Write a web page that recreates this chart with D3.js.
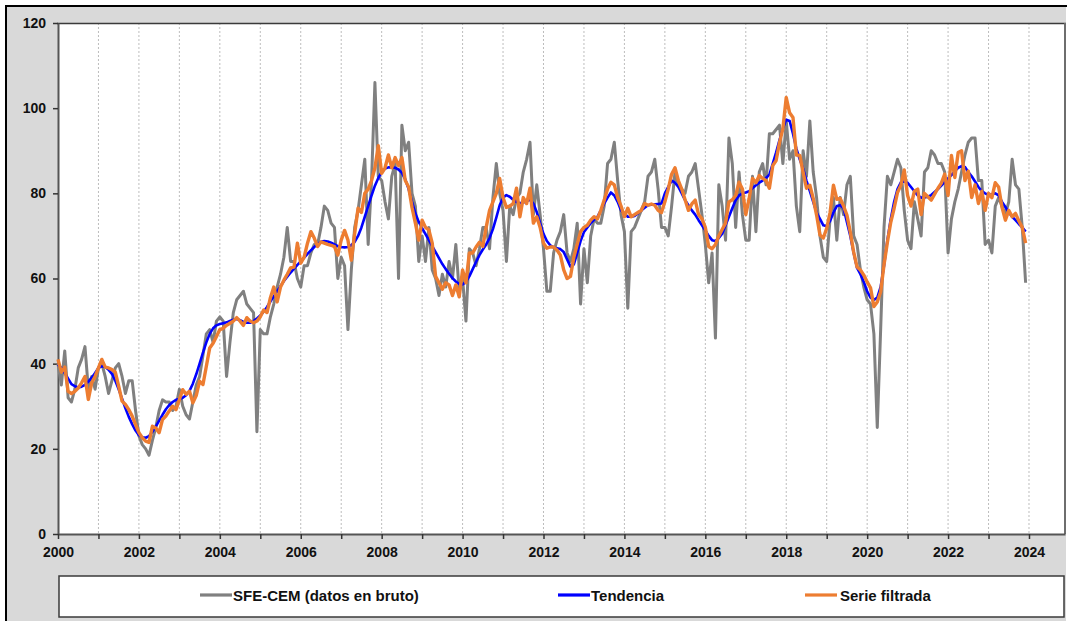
<!DOCTYPE html>
<html>
<head>
<meta charset="utf-8">
<script src="https://cdn.jsdelivr.net/npm/d3@7"></script>
<style>
    body { margin: 0; background: #fff; }
    text { font-family: "Liberation Sans", Arial, sans-serif; font-weight: bold; fill: #111; }
</style>
</head>
<body>
<script>

        //monthly series, January 2000 to December 2023
let startYear = 2000;

let bruto = [
    40, 35, 43, 32, 31, 34, 39, 41, 44, 34, 37, 34,      //2000
    39, 40, 37, 33, 36, 39, 40, 37, 33, 36, 36, 29,      //2001
    23, 21, 20, 18.5, 22, 25, 29, 31.5, 31, 31, 29, 30,  //2002
    34, 30, 28, 27, 31, 35, 37, 42, 47, 48, 45, 50,      //2003
    51, 50, 37, 45, 52, 55, 56, 57, 54, 53, 52, 24,      //2004
    48, 47, 47, 51, 54, 58, 61, 65, 72, 64, 64, 60,      //2005
    58, 63, 63, 66, 68, 68, 72, 77, 76, 73, 72, 60,      //2006
    65, 63, 48, 62, 72, 76, 82, 88, 68, 83, 106, 84,     //2007
    83, 78, 74, 84, 87, 60, 96, 90, 92, 80, 77, 64,      //2008
    70, 64, 72, 62, 60, 56, 61, 58, 64, 60, 68, 57,      //2009
    60, 50, 67, 66, 63, 67, 72, 72, 67, 79, 87, 80,      //2010
    76, 64, 77, 75, 79, 80, 85, 88, 92, 75, 82, 75,      //2011
    67, 57, 57, 66, 69, 71, 75, 66, 64, 67, 73, 54,      //2012
    67, 59, 70, 74, 73, 73, 77, 87, 88, 92, 83, 75,      //2013
    71, 53, 71, 72, 74, 76, 78, 84, 85, 88, 81, 72,      //2014
    72, 70, 77, 85, 82, 81, 80, 84, 85, 87, 81, 75,      //2015
    68, 59, 66, 46, 82, 77, 69, 93, 87, 72, 85, 75,      //2016
    69, 69, 84, 71, 85, 87, 82, 94, 94, 95, 96, 87,      //2017
    97, 88, 90, 77, 71, 90, 84, 97, 85, 79, 70, 65,      //2018
    64, 74, 79, 69, 79, 75, 82, 84, 70, 68, 62, 58,      //2019
    55, 54, 47, 25, 48, 72, 84, 82, 85, 88, 86, 76,      //2020
    69, 67, 78, 74, 70, 85, 86, 90, 89, 87, 87, 85,      //2021
    66, 74, 78, 81, 85, 89, 92, 93, 93, 83, 83, 68,      //2022
    69, 66, 77, 79, 77, 75, 78, 88, 82, 81, 72, 59       //2023
];

let tendencia = [
    39.8, 39, 37.8, 36.5, 35.2, 34.7, 34.4, 34.6, 35, 35.8, 36.7, 37.8,
    39, 39.4, 39.2, 38.6, 37.6, 36, 34, 31.8, 29.5, 27.5, 25.8, 24.3,
    23.2, 22.7, 22.6, 23, 24, 25.2, 26.6, 28, 29.3, 30.3, 31, 31.5,
    31.7, 32, 32.6, 33.6, 35.3, 37.5, 40, 42.6, 45, 47, 48.3, 49,
    49.3, 49.5, 49.7, 50, 50.3, 50.5, 50.2, 49.8, 49.6, 49.6, 50, 50.6,
    51.3, 52.2, 53.3, 54.6, 55.8, 57, 58.2, 59.4, 60.4, 61.4, 62.3, 63.2,
    64, 64.9, 65.8, 66.6, 67.4, 68.1, 68.6, 68.8, 68.7, 68.4, 68, 67.6,
    67.4, 67.3, 67.4, 67.8, 68.6, 70, 72, 74.5, 77, 79.5, 81.8, 83.6,
    85, 85.8, 86.1, 86.1, 86, 85.6, 84.8, 83.3, 81, 78, 75.3, 73.3,
    71.8, 70.4, 69, 67.6, 66.2, 64.8, 63.4, 62.2, 61.1, 60.1, 59.3, 58.7,
    58.6, 59.2, 60.5, 62.2, 63.9, 65.5, 66.8, 68, 69.5, 71.6, 74.3, 77.2,
    79, 79.6, 79.2, 78.5, 78, 77.7, 77.8, 78.2, 78.5, 77.6, 75.6, 73,
    70.5, 68.8, 67.8, 67.3, 67.1, 66.9, 66.2, 64.5, 62.8, 63.3, 66, 68.8,
    70.9, 72, 73, 73.8, 74.5, 76, 77.6, 79, 80.2, 79.5, 78, 76,
    75.2, 74.5, 74.5, 74.7, 75.3, 76, 76.6, 77.2, 77.3, 77.4, 77.5, 77.6,
    80, 81.5, 83, 82.5, 81.5, 80, 78.4, 77.2, 76, 75, 73.7, 72.5,
    71.3, 70, 69, 68.8, 69.5, 70.5, 72.5, 74.5, 76.5, 78.4, 79.5, 80,
    80.2, 80.5, 81.2, 81.9, 82.5, 83, 83.6, 84.4, 87, 89.6, 92.5, 95.2,
    97.3, 97, 94, 90.5, 88, 85.8, 83, 80.5, 78, 75.5, 74, 72.5,
    72.3, 73.5, 75.5, 77, 77.2, 76.5, 73.2, 70, 66, 62.5, 61, 59.2,
    57, 55.5, 55, 55.5, 58, 63, 69, 74, 78, 81, 82.6, 82.8,
    82.5, 81.5, 80.5, 79.5, 79, 79, 79.2, 79.6, 80.3, 81, 81.8, 82.7,
    83.5, 84.3, 85.2, 86, 86.4, 86.2, 85, 84, 82.8, 81.5, 80.5, 80,
    79.6, 79.8, 80, 79.5, 78, 76.8, 75.5, 74.5, 73.7, 72.8, 72, 71
];

let filtrada = [
    41, 38, 39.2, 33.5, 33, 33.5, 34.3, 35.5, 37, 31.6, 35.5, 37,
    39, 41, 39.2, 39, 38.6, 38, 34.7, 31.2, 30.4, 29.2, 27.7, 25.7,
    23.8, 22.6, 21.8, 21.5, 25.3, 24.9, 23.8, 26.9, 27.7, 28.9, 30, 29.2,
    31.6, 33.9, 32.8, 33.5, 30.8, 32.5, 35.9, 35.1, 39.4, 43.7, 44.8, 46.4,
    48, 48.3, 49, 49.5, 50, 50.8, 50, 49, 50.8, 50, 49.6, 50,
    51, 52.6, 52, 55.5, 58, 54.5, 58, 59.6, 61, 62.5, 62.7, 68.3,
    63.6, 65, 68.3, 71, 69.5, 67.5, 68.6, 68.3, 68, 67.8, 67.5, 65.5,
    69, 71.3, 69, 64.3, 70.6, 76.5, 75.5, 80, 81, 83, 86, 91.2,
    84.7, 86, 89, 86, 88.4, 86.5, 88.4, 83, 81.5, 76.7, 73, 69,
    73.7, 72, 71.4, 68.3, 60.5, 59, 57.5, 59, 58.5, 56, 58.5, 55.7,
    62, 59, 66, 66, 67.4, 68.5, 67.5, 72, 76, 78, 80, 83.5,
    79, 76.7, 77, 77.6, 81.2, 74.5, 79, 77.6, 81.2, 73, 74.5, 72,
    68.3, 67.1, 67.4, 67.4, 66.7, 65.5, 62, 60, 60.5, 65, 68, 71,
    72, 72.5, 73.7, 74.5, 74, 76, 78.4, 81, 82.6, 82, 79, 77,
    74.5, 76.5, 74.5, 75, 75.5, 76, 77.6, 77.2, 77.5, 77.2, 76, 75.5,
    78, 81, 84.5, 86, 83, 81, 78.5, 76, 77.5, 78.4, 75, 74,
    72, 67.5, 67, 68, 70, 71.5, 73, 78, 78.5, 79.5, 82.6, 81,
    75, 78.8, 83.5, 82.5, 84.2, 83.5, 83, 81.2, 86.5, 87.7, 91.9, 95.2,
    102.5, 98.9, 97.8, 89, 88.9, 85, 81.2, 81.9, 78.8, 74.9, 70.2, 69.5,
    71.8, 75.5, 81.9, 78.6, 78.8, 77, 74.9, 70.9, 66.2, 62.7, 62, 60.8,
    59.2, 57.8, 53.4, 54.5, 56.9, 63.2, 68.5, 73.2, 76.5, 80.2, 81.9, 85.5,
    79.5, 77, 80.5, 81, 75, 80, 79.2, 78.4, 79.8, 81.2, 82.4, 84.5,
    79.5, 88.9, 83.7, 89.6, 90, 83, 85.2, 79, 82, 77.6, 80.5, 76,
    80, 79, 82.5, 81.5, 76.7, 73.7, 76, 74.5, 75.3, 73.5, 72, 68.3
];

let yTicks = [0, 20, 40, 60, 80, 100, 120];
let yearTicks = d3.range(2000, 2025);
let legendLabels = ["SFE-CEM (datos en bruto)", "Tendencia", "Serie filtrada"];

let width = 1067,
    height = 621;

let colors = ["#808080", "#0000ff", "#ed7d31"];
let strokeWidths = [3, 2.6, 3.4];

let svg = d3.select("body").append("svg")
    .attr("width", width)
    .attr("height", height);

        //grey frame with black top/left edge
svg.append("rect")
    .attr("x", 6).attr("y", 6)
    .attr("width", 1060).attr("height", height)
    .attr("fill", "#d9d9d9");
svg.append("line")
    .attr("x1", 6).attr("x2", 6).attr("y1", 5).attr("y2", height)
    .attr("stroke", "#000").attr("stroke-width", 2);
svg.append("line")
    .attr("x1", 5).attr("x2", width).attr("y1", 6).attr("y2", 6)
    .attr("stroke", "#000").attr("stroke-width", 2);

let x = d3.scaleLinear()
    .domain([2000, 2024.89])
    .range([58, 1065]);

let y = d3.scaleLinear()
    .domain([0, 120])
    .range([534, 23]);

        //plot area
svg.append("rect")
    .attr("x", 58).attr("y", 23)
    .attr("width", 1007).attr("height", 511)
    .attr("fill", "#fff");

        //vertical dashed year grid
svg.append("g")
    .selectAll("line")
    .data(yearTicks.slice(1))
    .enter()
    .append("line")
        .attr("x1", d => x(d)).attr("x2", d => x(d))
        .attr("y1", y(120)).attr("y2", y(0))
        .attr("stroke", "#bdbdbd")
        .attr("stroke-width", 1)
        .attr("stroke-dasharray", "2,2");

        //plot border top and right
svg.append("line")
    .attr("x1", 57).attr("x2", 1066).attr("y1", 23.5).attr("y2", 23.5)
    .attr("stroke", "#3a3a3a").attr("stroke-width", 1.5);
svg.append("line")
    .attr("x1", 1065).attr("x2", 1065).attr("y1", 23).attr("y2", 534)
    .attr("stroke", "#6e6e6e").attr("stroke-width", 2);

        //axes
let yAxis = svg.append("g")
    .attr("transform", "translate(58,0)")
    .call(d3.axisLeft(y).tickValues(yTicks).tickSize(5).tickSizeOuter(0).tickPadding(7));

let xAxis = svg.append("g")
    .attr("transform", "translate(0,534)")
    .call(d3.axisBottom(x)
        .tickValues(yearTicks)
        .tickSize(5)
        .tickSizeOuter(0)
        .tickPadding(8)
        .tickFormat(d => d % 2 === 0 ? d : ""));

[yAxis, xAxis].forEach(function (a) {
    a.select(".domain").attr("stroke", "#555").attr("stroke-width", 2);
    a.selectAll(".tick line").attr("stroke", "#333").attr("stroke-width", 1.5);
    a.selectAll("text")
        .attr("font-family", "'Liberation Sans', Arial, sans-serif")
        .attr("font-weight", "bold")
        .attr("font-size", 14)
        .attr("fill", "#111");
});

        //series lines, grey first so the filtered series sits on top
let months = bruto.map((d, i) => startYear + i / 12);
let line = d3.line()
    .x((d, i) => x(months[i]))
    .y(d => y(d));

[bruto, tendencia, filtrada].forEach(function (series, k) {
    svg.append("path")
        .datum(series)
        .attr("fill", "none")
        .attr("stroke", colors[k])
        .attr("stroke-width", strokeWidths[k])
        .attr("stroke-linejoin", "round")
        .attr("d", line);
});

        //legend box
svg.append("rect")
    .attr("x", 59).attr("y", 576)
    .attr("width", 1005).attr("height", 41)
    .attr("fill", "#fff")
    .attr("stroke", "#3a3a3a")
    .attr("stroke-width", 1.5);

let legendX = [200, 558, 805];

let legend = svg.append("g")
    .selectAll("g")
    .data(legendLabels)
    .enter()
    .append("g")
        .attr("transform", (d, i) => `translate(${legendX[i]},595)`);

legend.append("line")
    .attr("x1", 0).attr("x2", 32)
    .attr("stroke", (d, i) => colors[i])
    .attr("stroke-width", 3.2);

legend.append("text")
    .attr("x", (d, i) => i === 2 ? 35 : 33)
    .attr("y", 6)
    .attr("font-size", 15)
    .text(d => d);

</script>
</body>
</html>
